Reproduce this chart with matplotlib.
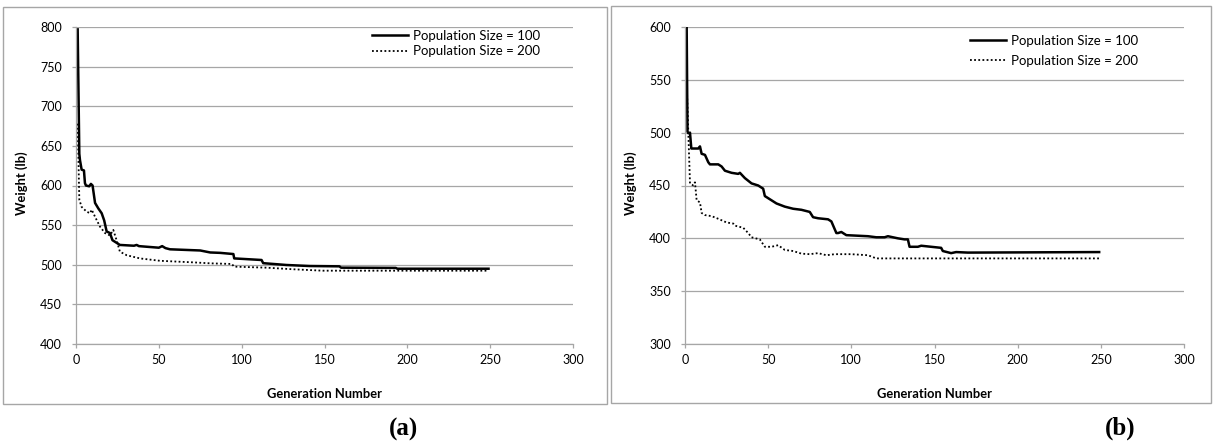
import matplotlib.pyplot as plt
from matplotlib.patches import Rectangle

plt.rcParams['font.family'] = ['Lato', 'DejaVu Sans']

# ── data ──────────────────────────────────────────────────────
# (a) population size = 100
a_gen_100 = [1, 2, 2.4, 3.4, 4.8, 5.4, 6, 8, 9, 10, 11.5, 13.5, 15.5, 17, 18.5,
             20.5, 22, 23.5, 26.5, 35, 36.6, 38, 50, 52, 54, 56.7, 75, 81, 87, 95,
             95.5, 112, 113, 127, 141, 159, 160, 193, 194, 249]
a_w_100 = [797, 640, 632, 620, 619, 603, 600, 599, 602, 600, 578, 571, 565, 556, 542,
           540, 531, 529, 525, 524, 525, 523.5, 521.5, 523.5, 521, 519.5, 518, 515.5, 515, 513.5,
           508, 506, 502, 499.7, 498.4, 498, 496.3, 496, 495, 495]
# (a) population size = 200
a_gen_200 = [1, 2, 3.4, 6.4, 8.5, 9.5, 11.5, 14.5, 17.5, 20.5, 22.5, 24.5, 26.5, 30.6,
             38.6, 50.7, 70.8, 81, 94, 95.5, 115, 131, 149, 249]
a_w_200 = [678, 582, 573, 567, 565, 569.5, 560.5, 548, 540, 537, 544, 531, 516.5, 512,
           508, 505, 503, 501.8, 501, 497.6, 496.3, 494.3, 492.5, 492.5]

# (b) population size = 100
b_gen_100 = [1, 1.5, 2, 3, 3.8, 8, 9, 10, 12, 14, 15, 20, 22, 24, 28, 32, 33, 36, 40, 44,
             47, 48, 50, 55, 60, 65, 70, 75, 77, 80, 86, 88, 91, 92, 94, 97, 110, 115, 120, 122,
             128, 132, 134, 135, 140, 142, 154, 155, 160, 163, 170, 249]
b_w_100 = [600, 501, 499.5, 500, 485, 485, 487, 480, 479, 472, 470, 470, 468, 464, 462, 461, 462, 457, 452, 450,
           447, 440, 438, 433, 430, 428, 427, 425, 420, 419, 418, 416, 405, 405, 406, 403, 402, 401, 401, 402,
           400, 399, 399, 392, 392, 393, 391, 388, 386, 387, 386.5, 387]
# (b) population size = 200
b_gen_200 = [1, 2, 3, 5, 6, 7, 9, 10, 12, 16, 20, 25, 29, 30, 35, 38, 40, 45, 48, 52,
             56, 60, 65, 70, 75, 80, 85, 90, 100, 105, 110, 115, 120, 249]
b_w_200 = [548, 500, 452, 450, 453, 436, 434, 424, 422, 421, 418.5, 415, 414, 412, 410, 405, 401, 399, 392, 392,
           393.5, 389, 388, 385.5, 385, 386, 384, 385, 385, 384.5, 384, 381, 381, 381]

labels = ['Population Size = 100', 'Population Size = 200']
x_ticks = [0, 50, 100, 150, 200, 250, 300]

GRID = '#a6a6a6'
TICK_FS = 9
LABEL_FS = 9.3
LEG_FS = 9.5

W, H = 1215, 445
fig = plt.figure(figsize=(W / 100, H / 100), dpi=100)
fig.patch.set_facecolor('white')


def px_rect(x0, y0, x1, y1):
    # pixel box (top-left origin) -> figure fraction
    return [x0 / W, 1 - y1 / H, (x1 - x0) / W, (y1 - y0) / H]


# panel frames
for x0, y0, x1, y1 in [(3, 7, 607, 404), (611, 6, 1211, 403)]:
    l, b, w, h = px_rect(x0, y0, x1, y1)
    fig.patches.append(Rectangle((l, b), w, h, transform=fig.transFigure,
                                 fill=False, edgecolor=GRID, linewidth=1.0))

ax_a = fig.add_axes(px_rect(76, 27, 573, 344))
ax_b = fig.add_axes(px_rect(685, 27, 1184, 344))

panels = [
    (ax_a, a_gen_100, a_w_100, a_gen_200, a_w_200, (400, 800), (0.5956, 0.948), 0.3),
    (ax_b, b_gen_100, b_w_100, b_gen_200, b_w_200, (300, 600), (0.571, 0.925), 0.62),
]

for ax, g1, w1, g2, w2, ylim, leg_pos, spacing in panels:
    ax.plot(g1, w1, color='black', linewidth=1.8, label=labels[0])
    ax.plot(g2, w2, color='black', linewidth=1.3, linestyle=(0, (1, 1.3)),
            label=labels[1])

    ax.set_xlim(0, 300)
    ax.set_ylim(*ylim)
    ax.set_xticks(x_ticks)
    ax.set_yticks(range(ylim[0], ylim[1] + 1, 50))
    ax.grid(axis='y', color=GRID, linewidth=0.9)
    ax.set_axisbelow(True)
    for s in ['top', 'right']:
        ax.spines[s].set_visible(False)
    for s in ['left', 'bottom']:
        ax.spines[s].set_color(GRID)
        ax.spines[s].set_linewidth(0.9)
    ax.tick_params(axis='both', colors=GRID, labelcolor='black',
                   labelsize=TICK_FS, length=3, width=0.9)
    ax.tick_params(axis='x', pad=4)
    ax.tick_params(axis='y', pad=7)

    ax.set_xlabel('Generation Number', fontsize=LABEL_FS, fontweight='bold')
    ax.set_ylabel('Weight (lb)', fontsize=LABEL_FS, fontweight='bold')
    ax.xaxis.set_label_coords(0.5, -0.139)
    ax.yaxis.set_label_coords(-0.096, 0.508)

    ax.legend(loc='center left', bbox_to_anchor=leg_pos, frameon=False,
              fontsize=LEG_FS, handlelength=2.75, handletextpad=0.38,
              borderpad=0, borderaxespad=0, labelspacing=spacing)

fig.text(403 / W, 1 - 429 / H, '(a)', ha='center', va='center',
         family='Liberation Serif', fontweight='bold', fontsize=18)
fig.text(1120 / W, 1 - 428 / H, '(b)', ha='center', va='center',
         family='Liberation Serif', fontweight='bold', fontsize=18)

fig.savefig('out.png', dpi=100, facecolor='white')
